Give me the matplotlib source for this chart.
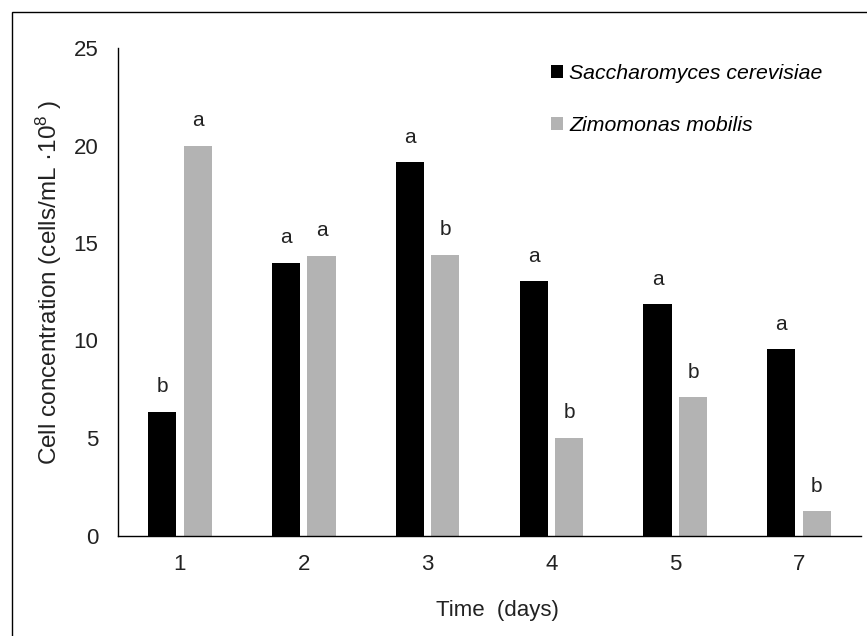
import matplotlib
matplotlib.use("Agg")
import matplotlib.pyplot as plt
import matplotlib.patches as mpatches
import numpy as np

plt.rcParams['font.family'] = ['Liberation Sans', 'DejaVu Sans']
plt.rcParams['mathtext.fontset'] = 'custom'
plt.rcParams['mathtext.rm'] = 'Liberation Sans'
plt.rcParams['mathtext.it'] = 'Liberation Sans:italic'

days = ['1', '2', '3', '4', '5', '7']
saccharomyces = [6.35, 14.0, 19.15, 13.05, 11.85, 9.55]
zymomonas = [20.0, 14.35, 14.4, 5.0, 7.1, 1.25]
letters_s = ['b', 'a', 'a', 'a', 'a', 'a']
letters_z = ['a', 'a', 'b', 'b', 'b', 'b']
series_names = ['Saccharomyces cerevisiae', 'Zimomonas mobilis']
yticks = [0, 5, 10, 15, 20, 25]

W, H = 867, 636
fig = plt.figure(figsize=(W / 100, H / 100), dpi=100)
ax = fig.add_axes([118 / W, 1 - 535.5 / H, (861 - 118) / W, (535.5 - 48) / H])

x = np.arange(len(days))
bw = 0.227
off = 0.143
ax.bar(x - off, saccharomyces, width=bw, color='#000000', label=series_names[0])
ax.bar(x + off, zymomonas, width=bw, color='#b3b3b3', label=series_names[1])

fs_let = 15
for xi, v, t in zip(x - off, saccharomyces, letters_s):
    ax.annotate(t, (xi, v), xytext=(0, 18), textcoords='offset points',
                ha='center', va='center', fontsize=fs_let, color='#222222')
for xi, v, t in zip(x + off, zymomonas, letters_z):
    ax.annotate(t, (xi, v), xytext=(0, 18), textcoords='offset points',
                ha='center', va='center', fontsize=fs_let, color='#222222')

fs = 16
ax.set_xlim(-0.5, len(days) - 0.5)
ax.set_ylim(0, 25)
ax.set_yticks(yticks)
ax.set_xticks(x)
ax.set_xticklabels(days)
ax.tick_params(axis='both', length=0, labelsize=fs, colors='#222222')
ax.tick_params(axis='y', pad=14)
ax.tick_params(axis='x', pad=13)
for s in ['top', 'right']:
    ax.spines[s].set_visible(False)
for s in ['left', 'bottom']:
    ax.spines[s].set_linewidth(1.0)
    ax.spines[s].set_color('#000000')

ax.set_xlabel('Time  (days)', fontsize=fs, color='#222222')
ax.xaxis.set_label_coords((497 - 118) / 743, -0.132)
ax.set_ylabel('Cell concentration (cells/mL \u00b710$^{8}$ )', fontsize=17.5,
              color='#222222')
ax.yaxis.set_label_coords((64 - 118) / 743, 0.52)

ax.legend(loc='upper left', bbox_to_anchor=(551 / W, 1 - 64 / H),
          bbox_transform=fig.transFigure, frameon=False, borderpad=0,
          borderaxespad=0, handlelength=0.55, handleheight=0.55,
          handletextpad=0.3, labelspacing=1.55,
          prop={'style': 'italic', 'size': 15.3, 'family': 'Liberation Sans'})

rect = mpatches.Rectangle((11.5 / W, -0.1), 1.2, 1.1 - 11.5 / H,
                          transform=fig.transFigure, fill=False,
                          edgecolor='#000000', linewidth=1.0, clip_on=False)
fig.patches.append(rect)

fig.savefig('out.png', dpi=100)
